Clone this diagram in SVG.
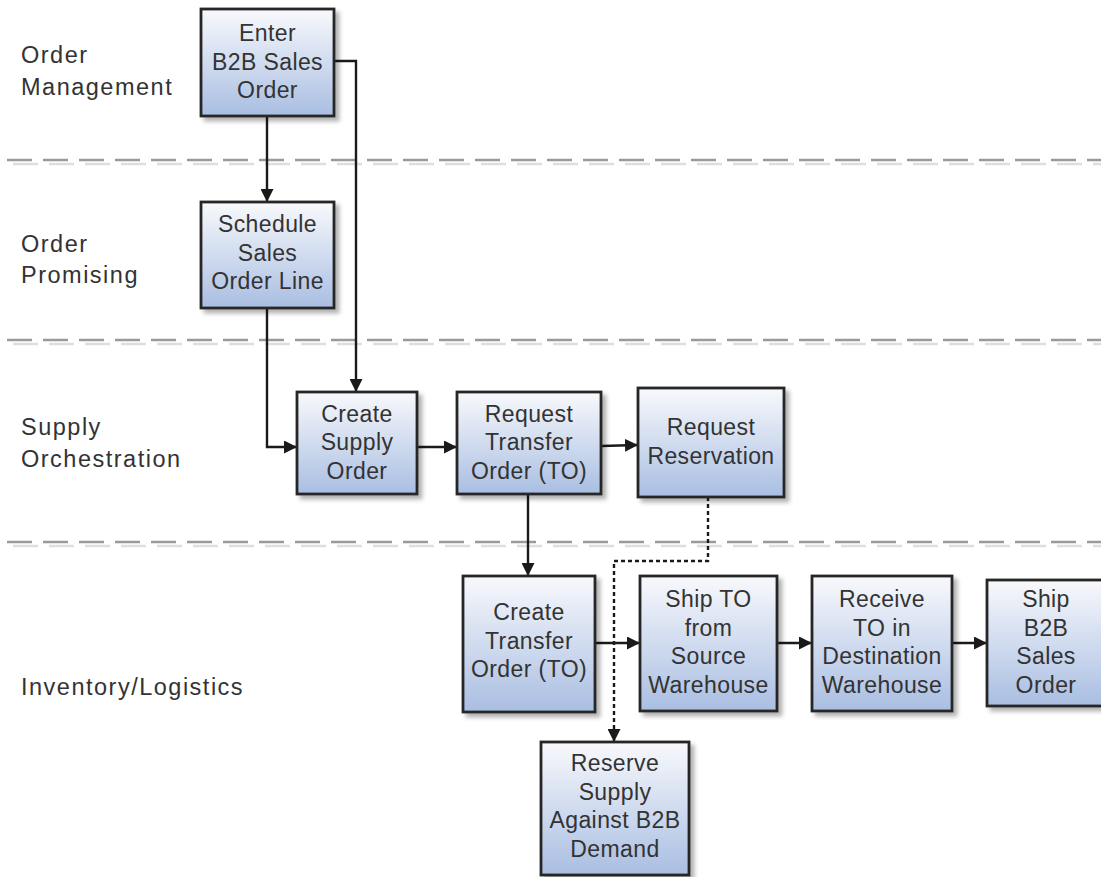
<svg xmlns="http://www.w3.org/2000/svg" width="1101" height="877" viewBox="0 0 1101 877">
<defs>
<linearGradient id="g" x1="0" y1="0" x2="0" y2="1">
<stop offset="0" stop-color="#f8f9fc"/>
<stop offset="1" stop-color="#a9bee2"/>
</linearGradient>
<filter id="sh" x="-10%" y="-10%" width="130%" height="130%">
<feDropShadow dx="4" dy="4" stdDeviation="2" flood-color="#000" flood-opacity="0.3"/>
</filter>
<marker id="ah" viewBox="0 0 13 13" refX="13" refY="6.5" markerWidth="13" markerHeight="13" markerUnits="userSpaceOnUse" orient="auto">
<path d="M0,0 L13,6.5 L0,13 Z" fill="#1a1a1a"/>
</marker>
<style>
.box{fill:url(#g);stroke:#262626;stroke-width:2.8;filter:url(#sh)}
.t{font-family:"Liberation Sans",Arial,sans-serif;font-size:23px;letter-spacing:0.4px;fill:#333;text-anchor:middle}
.lane{font-family:"Liberation Sans",Arial,sans-serif;font-size:23.5px;fill:#333;letter-spacing:1.5px}
.sep{stroke:#9a9a9a;stroke-width:2.5;stroke-dasharray:25 11;fill:none}
.seps{stroke:#dedede;stroke-width:2.5;stroke-dasharray:25 11;fill:none}
.c{stroke:#1a1a1a;stroke-width:2.4;fill:none;marker-end:url(#ah)}
.d{stroke:#1a1a1a;stroke-width:2.4;fill:none;stroke-dasharray:4 3;marker-end:url(#ah)}
</style>
</defs>
<rect width="1101" height="877" fill="#fff"/>
<g id="separators">
<line class="seps" x1="13" y1="164" x2="1101" y2="164"/>
<line class="sep" x1="7" y1="160" x2="1101" y2="160"/>
<line class="seps" x1="13" y1="344" x2="1101" y2="344"/>
<line class="sep" x1="7" y1="340" x2="1101" y2="340"/>
<line class="seps" x1="13" y1="546" x2="1101" y2="546"/>
<line class="sep" x1="7" y1="542" x2="1101" y2="542"/>
</g>
<g id="lanes">
<text class="lane" x="21" y="63">Order</text>
<text class="lane" x="21" y="95">Management</text>
<text class="lane" x="21" y="252">Order</text>
<text class="lane" x="21" y="283">Promising</text>
<text class="lane" x="21" y="435">Supply</text>
<text class="lane" x="21" y="467">Orchestration</text>
<text class="lane" x="21" y="695">Inventory/Logistics</text>
</g>
<g id="connectors">
<path class="c" d="M267,116 V202"/>
<path class="c" d="M334,61 H356 V392"/>
<path class="c" d="M267,308 V447 H297"/>
<path class="c" d="M417,447 H457"/>
<path class="c" d="M601,446 L638,445"/>
<path class="c" d="M528,494 V576"/>
<path class="d" d="M708,497 V561 H614 V742"/>
<path class="c" d="M595,643 H640"/>
<path class="c" d="M777,643 H812"/>
<path class="c" d="M952,643 H987"/>
</g>
<g id="enter">
<rect class="box" x="201" y="9" width="133" height="107"/>
<text class="t" x="267.5" y="41">Enter</text>
<text class="t" x="267.5" y="69.5">B2B Sales</text>
<text class="t" x="267.5" y="98">Order</text>
</g>
<g id="schedule">
<rect class="box" x="201" y="202" width="133" height="106"/>
<text class="t" x="267.5" y="232">Schedule</text>
<text class="t" x="267.5" y="260.5">Sales</text>
<text class="t" x="267.5" y="289">Order Line</text>
</g>
<g id="create-supply">
<rect class="box" x="297" y="392" width="120" height="102"/>
<text class="t" x="357" y="421.5">Create</text>
<text class="t" x="357" y="450">Supply</text>
<text class="t" x="357" y="478.5">Order</text>
</g>
<g id="request-transfer">
<rect class="box" x="457" y="392" width="144" height="102"/>
<text class="t" x="529" y="421.5">Request</text>
<text class="t" x="529" y="450">Transfer</text>
<text class="t" x="529" y="478.5">Order (TO)</text>
</g>
<g id="request-reservation">
<rect class="box" x="638" y="388" width="146" height="109"/>
<text class="t" x="711" y="435">Request</text>
<text class="t" x="711" y="463.5">Reservation</text>
</g>
<g id="create-transfer">
<rect class="box" x="463" y="576" width="132" height="136"/>
<text class="t" x="529" y="620">Create</text>
<text class="t" x="529" y="648.5">Transfer</text>
<text class="t" x="529" y="677">Order (TO)</text>
</g>
<g id="ship-to">
<rect class="box" x="640" y="576" width="137" height="135"/>
<text class="t" x="708.5" y="607">Ship TO</text>
<text class="t" x="708.5" y="635.5">from</text>
<text class="t" x="708.5" y="664">Source</text>
<text class="t" x="708.5" y="692.5">Warehouse</text>
</g>
<g id="receive-to">
<rect class="box" x="812" y="576" width="140" height="135"/>
<text class="t" x="882" y="607">Receive</text>
<text class="t" x="882" y="635.5">TO in</text>
<text class="t" x="882" y="664">Destination</text>
<text class="t" x="882" y="692.5">Warehouse</text>
</g>
<g id="ship-b2b">
<rect class="box" x="987" y="580" width="120" height="126"/>
<text class="t" x="1046" y="607">Ship</text>
<text class="t" x="1046" y="635.5">B2B</text>
<text class="t" x="1046" y="664">Sales</text>
<text class="t" x="1046" y="692.5">Order</text>
</g>
<g id="reserve-supply">
<rect class="box" x="541" y="742" width="148" height="133"/>
<text class="t" x="615" y="771">Reserve</text>
<text class="t" x="615" y="799.5">Supply</text>
<text class="t" x="615" y="828">Against B2B</text>
<text class="t" x="615" y="856.5">Demand</text>
</g>
</svg>
